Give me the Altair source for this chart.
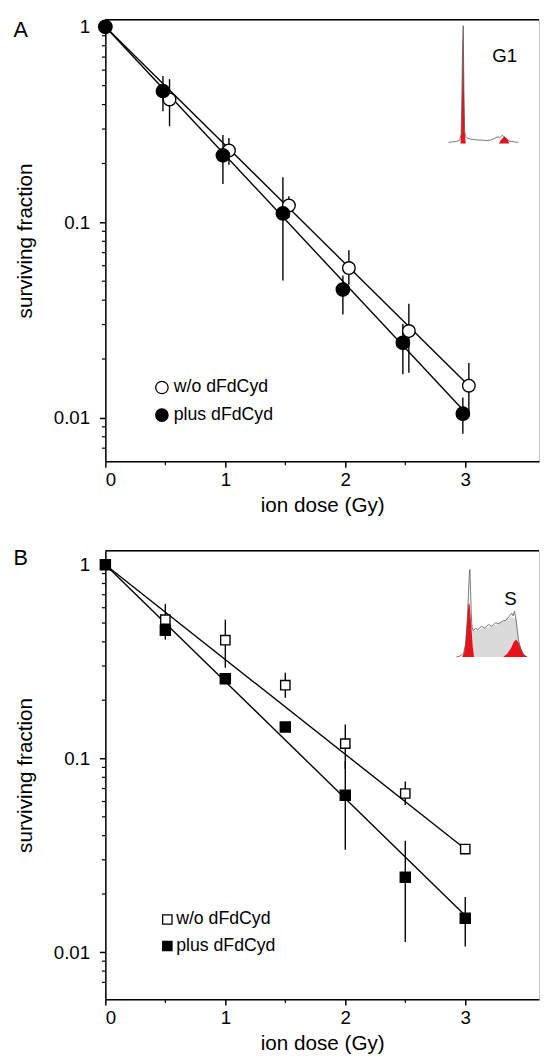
import altair as alt
import pandas as pd

FONT = "Liberation Sans"
LABELS = ["w/o dFdCyd", "plus dFdCyd"]

# ---------------- Panel A (G1) ----------------
A_DOSE_WO = [0, 0.535, 1.03, 1.53, 2.03, 2.53, 3.03]
A_SF_WO = [1.0, 0.425, 0.233, 0.122, 0.0584, 0.0278, 0.0146]
A_LO_WO = [None, 0.31, 0.197, 0.105, 0.048, 0.017, 0.0102]
A_HI_WO = [None, 0.54, 0.27, 0.136, 0.072, 0.0383, 0.0191]
A_DOSE_PLUS = [0, 0.48, 0.98, 1.48, 1.98, 2.48, 2.98]
A_SF_PLUS = [1.0, 0.469, 0.22, 0.111, 0.0453, 0.0242, 0.0105]
A_LO_PLUS = [None, 0.37, 0.157, 0.0504, 0.0338, 0.0167, 0.0083]
A_HI_PLUS = [None, 0.56, 0.28, 0.17, 0.0535, 0.0303, 0.0127]
A_FIT_X_WO = [0, 3.03]
A_FIT_Y_WO = [1.0, 0.0146]
A_FIT_X_PLUS = [0, 2.98]
A_FIT_Y_PLUS = [1.0, 0.011]

# ---------------- Panel B (S) ----------------
B_DOSE = [0, 0.5, 1, 1.5, 2, 2.5, 3]
B_SF_WO = [1.0, 0.521, 0.408, 0.239, 0.1194, 0.066, 0.0341]
B_LO_WO = [None, 0.47, 0.294, 0.206, 0.088, 0.0575, None]
B_HI_WO = [None, 0.628, 0.521, 0.277, 0.150, 0.076, None]
B_SF_PLUS = [1.0, 0.459, 0.258, 0.1455, 0.0647, 0.0244, 0.0150]
B_LO_PLUS = [None, 0.411, None, None, 0.0338, 0.0113, 0.0107]
B_HI_PLUS = [None, 0.50, None, None, 0.097, 0.0376, 0.0193]
B_FIT_X_WO = [0, 3]
B_FIT_Y_WO = [1.0, 0.0341]
B_FIT_X_PLUS = [0, 3]
B_FIT_Y_PLUS = [1.0, 0.0155]

# ---------------- axis ticks ----------------
Y_MAJOR = [0.01, 0.1, 1]
Y_MINOR = [0.007, 0.008, 0.009, 0.02, 0.03, 0.04, 0.05, 0.06, 0.07, 0.08, 0.09,
           0.2, 0.3, 0.4, 0.5, 0.6, 0.7, 0.8, 0.9]
X_MAJOR = [0, 1, 2, 3]
X_MINOR = [0.5, 1.5, 2.5]

# ---------------- inset histograms (channel, counts) ----------------
G1_CH = [0, 6, 12, 16, 18, 19, 20, 21, 22, 23, 24, 26, 30, 36, 42, 48, 54, 60, 64, 68, 71, 73, 75, 77, 79, 82, 85, 88, 94, 100]
G1_CNT = [1, 1.5, 2, 3, 8, 35, 80, 100, 45, 12, 6, 5, 4, 3.5, 3, 3, 2.5, 3, 4, 5, 6, 5, 6, 7, 6, 5, 3, 2, 1.5, 1]
G1_RED1_CH = [17, 18, 19, 20, 21, 22, 23, 24.5]
G1_RED1_CNT = [0, 7, 34, 79, 97, 44, 11, 0]
G1_RED2_CH = [72, 75, 78, 80, 82, 85, 87]
G1_RED2_CNT = [0, 3, 5, 6, 5, 3, 0]

S_CH = [0, 5, 10, 13, 15, 17, 18, 19, 20, 21, 22, 24, 27, 30, 35, 40, 45, 50, 55, 60, 65, 70, 74, 78, 80, 82, 84, 86, 88, 91, 94, 97, 100]
S_CNT = [0, 1, 4, 15, 38, 70, 92, 100, 75, 48, 34, 30, 33, 31, 35, 33, 37, 35, 39, 38, 41, 42, 46, 50, 47, 52, 44, 30, 18, 9, 4, 1, 0]
S_SPH_CH = [20, 24, 30, 40, 50, 60, 70, 78, 84, 88, 92]
S_SPH_CNT = [40, 30, 31, 33, 35, 38, 42, 46, 44, 18, 6]
S_RED1_CH = [8, 11, 13, 15, 17, 18, 19, 21, 23, 25]
S_RED1_CNT = [0, 5, 18, 42, 60, 62, 58, 35, 12, 0]
S_RED2_CH = [66, 72, 77, 81, 84, 87, 91, 95, 100]
S_RED2_CNT = [0, 4, 10, 17, 20, 17, 10, 3, 0]

W = 441
XMAX = 3.615
RED = "#e8121a"


def build_panel(letter, letter_y, dose_wo, sf_wo, lo_wo, hi_wo, dose_plus, sf_plus, lo_plus, hi_plus,
                fit_x_wo, fit_y_wo, fit_x_plus, fit_y_plus, shape, size_wo, size_plus,
                ydom, H, leg, inset, inset_label):
    pts = pd.DataFrame({
        "dose": list(dose_wo) + list(dose_plus),
        "sf": list(sf_wo) + list(sf_plus),
        "lo": list(lo_wo) + list(lo_plus),
        "hi": list(hi_wo) + list(hi_plus),
        "grp": [LABELS[0]] * len(dose_wo) + [LABELS[1]] * len(dose_plus),
        "sz": [size_wo] * len(dose_wo) + [size_plus] * len(dose_plus),
    })
    errs = pts.dropna(subset=["lo", "hi"])
    fit = pd.DataFrame({
        "dose": list(fit_x_wo) + list(fit_x_plus),
        "sf": list(fit_y_wo) + list(fit_y_plus),
        "grp": [LABELS[0]] * len(fit_x_wo) + [LABELS[1]] * len(fit_x_plus),
    })

    xs = alt.Scale(domain=[0, XMAX], nice=False, zero=False)
    ys = alt.Scale(type="log", domain=ydom, nice=False)
    xax = alt.Axis(values=X_MAJOR, format="d", title="ion dose (Gy)", grid=False)
    yax = alt.Axis(values=Y_MAJOR, format="~g", title="surviving fraction", grid=False)

    lines = alt.Chart(fit).mark_line(color="black", strokeWidth=1.4).encode(
        x=alt.X("dose:Q", scale=xs, axis=xax),
        y=alt.Y("sf:Q", scale=ys, axis=yax),
        detail="grp:N",
    )
    bars = alt.Chart(errs).mark_rule(color="black", strokeWidth=1.4).encode(
        x="dose:Q", y="lo:Q", y2="hi:Q"
    )
    points = alt.Chart(pts).mark_point(
        filled=True, stroke="black", strokeWidth=1.4, shape=shape, opacity=1
    ).encode(
        x="dose:Q",
        y="sf:Q",
        size=alt.Size("sz:Q", scale=None, legend=None),
        fill=alt.Fill(
            "grp:N",
            scale=alt.Scale(domain=LABELS, range=["white", "black"]),
            legend=alt.Legend(
                title=None, orient="none", legendX=leg["x"], legendY=leg["y"],
                symbolType=shape, symbolSize=leg["size"], symbolStrokeColor="black",
                symbolStrokeWidth=1.3, labelFontSize=18, labelFont=FONT,
                labelColor="black", labelOffset=leg["off"], rowPadding=leg["row"],
                padding=0, symbolOpacity=1,
            ),
        ),
    )
    yminor = alt.Chart(pd.DataFrame({"v": Y_MINOR})).mark_rule(
        color="black", strokeWidth=1.2
    ).encode(y="v:Q", x=alt.value(-3.5), x2=alt.value(0))
    xminor = alt.Chart(pd.DataFrame({"v": X_MINOR})).mark_rule(
        color="black", strokeWidth=1.2
    ).encode(x="v:Q", y=alt.value(H), y2=alt.value(H + 4))
    top = alt.Chart(pd.DataFrame({"t": [0]})).mark_rule(
        color="black", strokeWidth=1.5
    ).encode(x=alt.value(0), x2=alt.value(W), y=alt.value(0))
    letter_mark = alt.Chart(pd.DataFrame({"t": [letter]})).mark_text(
        font=FONT, fontSize=22, align="center", baseline="middle", color="black"
    ).encode(text="t:N", x=alt.value(-86), y=alt.value(letter_y))

    main = alt.layer(lines, bars, points, yminor, xminor, top, letter_mark)

    # inset histogram with its own scales
    ix = alt.Scale(domain=[0, 100], range=inset["xr"], nice=False)
    iy = alt.Scale(domain=[0, 100], range=inset["yr"], nice=False)
    layers = []
    if inset.get("fill_ch") is not None:
        layers.append(
            alt.Chart(pd.DataFrame({"c": inset["fill_ch"], "n": inset["fill_cnt"]}))
            .mark_area(color="#dadada", opacity=1)
            .encode(x=alt.X("c:Q", scale=ix, axis=None), y=alt.Y("n:Q", scale=iy, axis=None))
        )
    for rc, rn in inset["reds"]:
        layers.append(
            alt.Chart(pd.DataFrame({"c": rc, "n": rn}))
            .mark_area(color=RED, opacity=1)
            .encode(x=alt.X("c:Q", scale=ix, axis=None), y=alt.Y("n:Q", scale=iy, axis=None))
        )
    layers.append(
        alt.Chart(pd.DataFrame({"c": inset["ch"], "n": inset["cnt"]}))
        .mark_line(color="#555555", strokeWidth=0.8)
        .encode(x=alt.X("c:Q", scale=ix, axis=None), y=alt.Y("n:Q", scale=iy, axis=None))
    )
    layers.append(
        alt.Chart(pd.DataFrame({"t": [inset_label]}))
        .mark_text(font=FONT, fontSize=19, align="center", baseline="middle", color="black")
        .encode(text="t:N", x=alt.value(inset["tx"]), y=alt.value(inset["ty"]))
    )
    ins = alt.layer(*layers)

    return alt.layer(main, ins).resolve_scale(x="independent", y="independent").properties(
        width=W, height=H
    )


panel_a = build_panel(
    "A", 11, A_DOSE_WO, A_SF_WO, A_LO_WO, A_HI_WO, A_DOSE_PLUS, A_SF_PLUS, A_LO_PLUS, A_HI_PLUS,
    A_FIT_X_WO, A_FIT_Y_WO, A_FIT_X_PLUS, A_FIT_Y_PLUS, "circle", 165, 185,
    [0.006, 1.087], 449,
    {"x": 48.5, "y": 365, "size": 160, "off": 3, "row": 10},
    {"xr": [349, 420], "yr": [126, 6], "ch": G1_CH, "cnt": G1_CNT,
     "reds": [(G1_RED1_CH, G1_RED1_CNT), (G1_RED2_CH, G1_RED2_CNT)],
     "fill_ch": None, "tx": 406, "ty": 37},
    "G1",
)

panel_b = build_panel(
    "B", 8, B_DOSE, B_SF_WO, B_LO_WO, B_HI_WO, B_DOSE, B_SF_PLUS, B_LO_PLUS, B_HI_PLUS,
    B_FIT_X_WO, B_FIT_Y_WO, B_FIT_X_PLUS, B_FIT_Y_PLUS, "square", 90, 105,
    [0.00573, 1.181], 456,
    {"x": 54, "y": 366, "size": 90, "off": 0, "row": 9},
    {"xr": [357, 429], "yr": [108, 19], "ch": S_CH, "cnt": S_CNT,
     "reds": [(S_RED1_CH, S_RED1_CNT), (S_RED2_CH, S_RED2_CNT)],
     "fill_ch": S_SPH_CH, "fill_cnt": S_SPH_CNT, "tx": 412, "ty": 49},
    "S",
)

chart = alt.vconcat(panel_a, panel_b, spacing=31).resolve_scale(
    fill="independent"
).resolve_legend(fill="independent").properties(
    padding={"left": 5, "top": 0, "right": 0, "bottom": 0}, background="white"
).configure_view(stroke="#c8c8c8", strokeWidth=1).configure_axis(
    labelFont=FONT, titleFont=FONT, labelFontSize=19, titleFontSize=21,
    titleFontWeight="normal", labelColor="black", titleColor="black",
    domainColor="black", domainWidth=1.5, tickColor="black", tickWidth=1.5,
    tickSize=6,
).configure_axisX(labelPadding=4, titlePadding=5).configure_axisY(
    labelPadding=10, titlePadding=18
)

chart.save("out.html", embed_options={"renderer": "svg", "actions": False})
